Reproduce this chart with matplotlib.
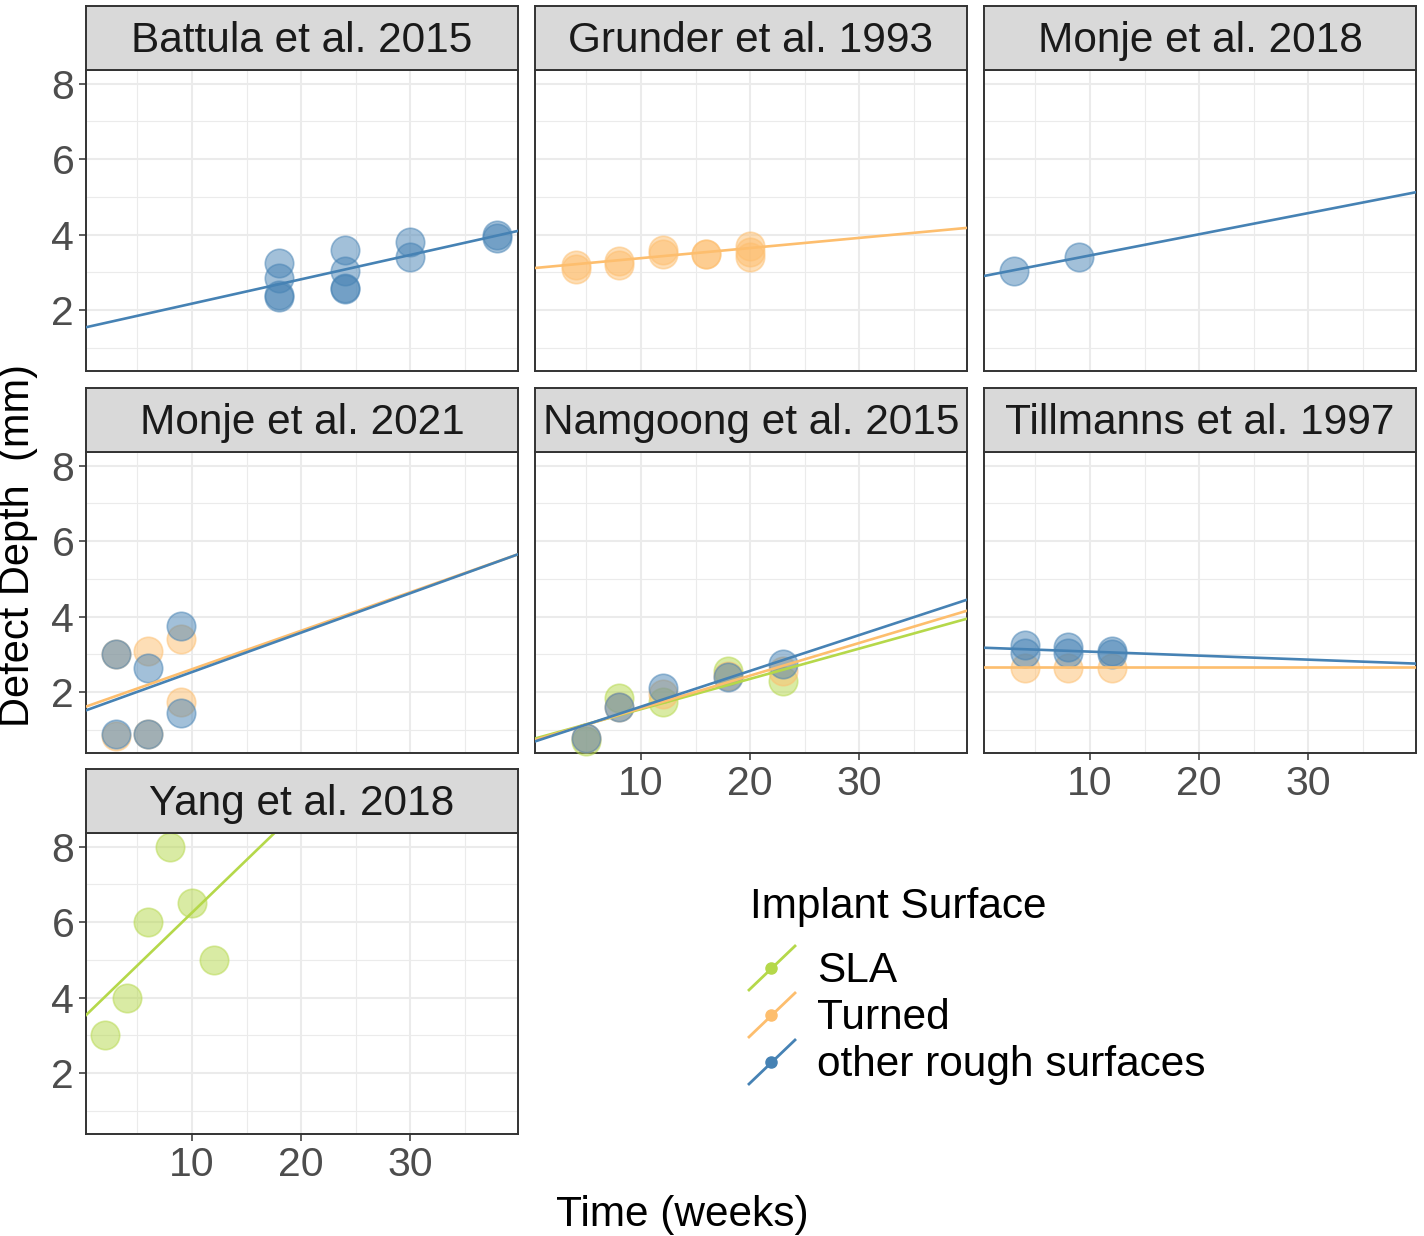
import matplotlib.pyplot as plt
import numpy as np

plt.rcParams['font.family'] = ['Liberation Sans', 'DejaVu Sans']

# data
studies = ["Battula et al. 2015", "Grunder et al. 1993", "Monje et al. 2018",
           "Monje et al. 2021", "Namgoong et al. 2015", "Tillmanns et al. 1997",
           "Yang et al. 2018"]
surfaces = ["SLA", "Turned", "other rough surfaces"]
surface_colors = ["#B5D84A", "#FDBE6E", "#4682B4"]

pt_study = [0] * 12 + [1] * 11 + [2] * 2 + [3] * 12 + [4] * 15 + [5] * 9 + [6] * 6
pt_surface = ([2] * 12 + [1] * 11 + [2] * 2 + [1] * 6 + [2] * 6
              + [0] * 5 + [1] * 5 + [2] * 5 + [1] * 3 + [2] * 6 + [0] * 6)
pt_weeks = [18, 18, 18, 18, 24, 24, 24, 24, 30, 30, 38, 38,
            4, 4, 8, 8, 12, 12, 16, 16, 20, 20, 20,
            3, 9,
            3, 3, 6, 6, 9, 9, 3, 3, 6, 6, 9, 9,
            5, 8, 12, 18, 23, 5, 8, 12, 18, 23, 5, 8, 12, 18, 23,
            4, 8, 12, 4, 4, 8, 8, 12, 12,
            2, 4, 6, 8, 10, 12]
pt_depth = [3.25, 2.85, 2.4, 2.35, 3.6, 3.05, 2.6, 2.55, 3.8, 3.4, 4.0, 3.9,
            3.1, 3.2, 3.2, 3.3, 3.5, 3.6, 3.5, 3.5, 3.7, 3.55, 3.4,
            3.05, 3.4,
            3.0, 0.85, 3.1, 0.9, 3.4, 1.75, 3.0, 0.9, 2.65, 0.9, 3.75, 1.45,
            0.72, 1.85, 1.75, 2.55, 2.3, 0.78, 1.6, 1.95, 2.42, 2.55,
            0.8, 1.6, 2.1, 2.4, 2.75,
            2.65, 2.65, 2.65, 3.25, 3.05, 3.2, 3.05, 3.1, 3.0,
            3, 4, 6, 8, 6.5, 5]

fit_study = [0, 1, 2, 3, 3, 4, 4, 4, 5, 5, 6]
fit_surface = [2, 1, 2, 1, 2, 0, 1, 2, 1, 2, 0]
fit_intercept = [1.53, 3.11, 2.89, 1.59, 1.49, 0.75, 0.71, 0.67, 2.68, 3.18, 3.46]
fit_slope = [0.0644, 0.0268, 0.056, 0.1018, 0.1043, 0.0801, 0.0864, 0.0947,
             0.0, -0.0106, 0.279]

W, H = 1424, 1236
fig = plt.figure(figsize=(W / 100, H / 100), dpi=100)


def box(left, top, w, h):
    return [left / W, 1 - (top + h) / H, w / W, h / H]


col_left = [86, 535, 984]
row_top = [70, 452, 833]
pw, ph, sh = 432, 301, 64
xlim = (0.28, 39.9)
ylim = (0.39, 8.36)

for i, name in enumerate(studies):
    r, c = divmod(i, 3)
    ax = fig.add_axes(box(col_left[c], row_top[r], pw, ph))
    ax.set_xlim(*xlim)
    ax.set_ylim(*ylim)
    ax.set_xticks([10, 20, 30])
    ax.set_xticks([5, 15, 25, 35], minor=True)
    ax.set_yticks([2, 4, 6, 8])
    ax.set_yticks([1, 3, 5, 7], minor=True)
    ax.grid(which='major', color='#EBEBEB', lw=1.5)
    ax.grid(which='minor', color='#EBEBEB', lw=0.8)
    ax.set_axisbelow(True)
    for sp in ax.spines.values():
        sp.set_color('#333333')
        sp.set_linewidth(1.4)
    ax.tick_params(which='major', length=5, width=1.1, color='#333333',
                   labelsize=29.5, labelcolor='#4D4D4D', pad=3.5)
    ax.tick_params(which='minor', length=0)
    if c != 0:
        ax.tick_params(axis='y', which='major', length=0, labelleft=False)
    if i + 3 < len(studies):
        ax.tick_params(axis='x', which='major', length=0, labelbottom=False)

    for s in range(3):
        xs = [x for x, st, su in zip(pt_weeks, pt_study, pt_surface) if st == i and su == s]
        ys = [y for y, st, su in zip(pt_depth, pt_study, pt_surface) if st == i and su == s]
        if xs:
            ax.scatter(xs, ys, s=420, color=surface_colors[s], alpha=0.5,
                       edgecolors=surface_colors[s], linewidths=1.2, zorder=3,
                       clip_on=False)
    xx = np.array(xlim)
    for st, su, a, b in zip(fit_study, fit_surface, fit_intercept, fit_slope):
        if st == i:
            ax.plot(xx, a + b * xx, color=surface_colors[su], lw=1.9, zorder=4)

    sax = fig.add_axes(box(col_left[c], row_top[r] - sh, pw, sh))
    sax.set_facecolor('#D9D9D9')
    sax.set_xticks([])
    sax.set_yticks([])
    for sp in sax.spines.values():
        sp.set_color('#333333')
        sp.set_linewidth(1.4)
    sax.text(0.5, 0.45, name, ha='center', va='center', fontsize=30.5,
             color='#1A1A1A', transform=sax.transAxes)

fig.text(18 / W, 1 - 545 / H, "Defect Depth  (mm)", rotation=90,
         ha='center', va='center', fontsize=30, color='black')
fig.text(682 / W, 1 - 1215 / H, "Time (weeks)", ha='center', va='center',
         fontsize=30.5, color='black')

# legend
lax = fig.add_axes([0, 0, 1, 1])
lax.set_xlim(0, W)
lax.set_ylim(H, 0)
lax.axis('off')
lax.text(750, 907, "Implant Surface", ha='left', va='center', fontsize=30.5)
key_y = [968, 1015, 1062]
for s in range(3):
    ky = key_y[s]
    lax.plot([749, 795], [ky + 22, ky - 22], color=surface_colors[s], lw=2)
    lax.plot([771], [ky], 'o', color=surface_colors[s], ms=8)
    lax.text(817, ky + 3, surfaces[s], ha='left', va='center', fontsize=30.5)

fig.savefig("out.png", dpi=100)
